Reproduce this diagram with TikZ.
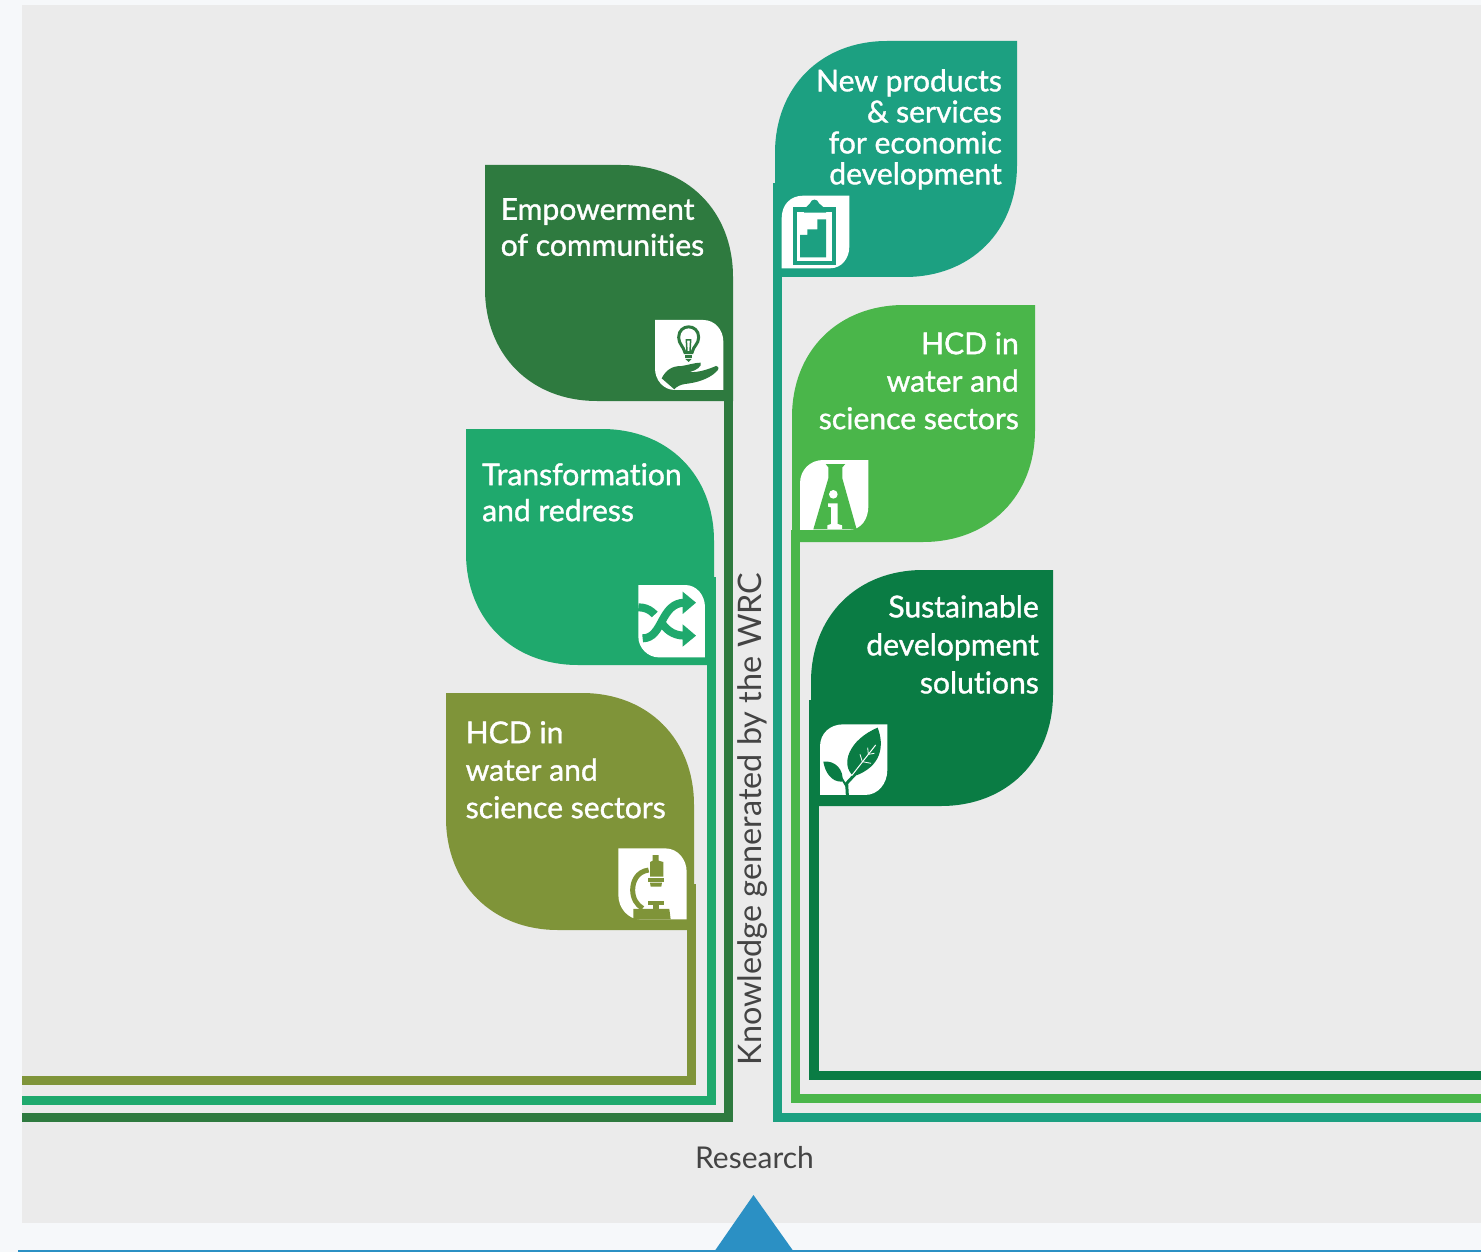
\documentclass[tikz,border=0pt]{standalone}
\usepackage{fontspec}
\setmainfont[Ligatures=NoCommon]{Lato}
\newfontfamily\leaffont[FakeBold=1.2,Ligatures=NoCommon]{Lato}
\definecolor{bgout}{HTML}{F6F8FA}
\definecolor{bgin}{HTML}{EBEBEB}
\definecolor{cLa}{HTML}{2E7A3F}
\definecolor{cLb}{HTML}{1FA96D}
\definecolor{cLc}{HTML}{7F9439}
\definecolor{cRa}{HTML}{1CA081}
\definecolor{cRb}{HTML}{4AB64A}
\definecolor{cRc}{HTML}{0A7C44}
\definecolor{cBlue}{HTML}{2B90C4}
\definecolor{cText}{HTML}{444444}
\tikzset{
  stem/.style={line width=#1,line join=miter,line cap=butt},
  leaftext/.style={text=white,inner sep=0pt,font=\leaffont\fontsize{30.1}{#1}\selectfont},
  iconbox/.style={fill=white,draw=none},
  plain/.style={text=cText,inner sep=0pt,font=\fontsize{#1}{34}\selectfont}
}
% leaf with square top-left / bottom-right corners
\newcommand{\leafL}[5]{\fill[#5] (#1,#2) -- ({#3-112},#2) .. controls ({#3-46},#2) and (#3,{#2+46}) .. (#3,{#2+112}) -- (#3,#4) -- ({#1+112},#4) .. controls ({#1+46},#4) and (#1,{#4-46}) .. (#1,{#4-112}) -- cycle;}
% leaf with square top-right / bottom-left corners
\newcommand{\leafR}[5]{\fill[#5] (#3,#2) -- (#3,{#4-112}) .. controls (#3,{#4-46}) and ({#3-46},#4) .. ({#3-112},#4) -- (#1,#4) -- (#1,{#2+112}) .. controls (#1,{#2+46}) and ({#1+46},#2) .. ({#1+112},#2) -- cycle;}
\begin{document}
\begin{tikzpicture}[x=1pt,y=-1pt]
\useasboundingbox (0,0) rectangle (1481,1252);
\fill[bgout] (0,0) rectangle (1481,1252);
\fill[bgin] (22,5) rectangle (1481,1223);
\fill[cBlue] (18,1250) rectangle (1481,1252);
\fill[cBlue] (753.5,1195) -- (794,1252) -- (714,1252) -- cycle;

% stems
\coordinate (la) at (728.5,300); \coordinate (lae) at (22,1117.5);
\coordinate (lb) at (711.5,577); \coordinate (lbe) at (22,1100.5);
\coordinate (lc) at (691.5,884); \coordinate (lce) at (22,1080.5);
\coordinate (ra) at (777,183);   \coordinate (rae) at (1481,1117.5);
\coordinate (rb) at (795.5,530); \coordinate (rbe) at (1481,1098.5);
\coordinate (rc) at (814,700);   \coordinate (rce) at (1481,1075.5);
\draw[stem=9.5,cLa] (la) |- (lae);
\draw[stem=9.5,cLb] (lb) |- (lbe);
\draw[stem=9,cLc] (lc) |- (lce);
\draw[stem=9,cRa] (ra) |- (rae);
\draw[stem=8.5,cRb] (rb) |- (rbe);
\draw[stem=9.5,cRc] (rc) |- (rce);

% leaves
\leafL{485}{165}{733}{401}{cLa}
\leafL{466}{429}{714}{665}{cLb}
\leafL{446}{693}{694}{930}{cLc}
\leafR{775}{41}{1017}{277}{cRa}
\leafR{792}{305}{1035}{542}{cRb}
\leafR{811}{570}{1053}{806}{cRc}

% leaf texts
\node[leaftext=36,align=left,anchor=north west] (tla) at (500.5,198) {Empowerment\\of communities};
\node[leaftext=36,align=left,anchor=north west] (tlb) at (482,463) {Transformation\\and redress};
\node[leaftext=37.5,align=left,anchor=north west] (tlc) at (465.5,721) {HCD in\\water and\\science sectors};
\node[leaftext=31,align=right,anchor=north east] (tra) at (1002,69) {New products\\\&\ services\\for economic\\development};
\node[leaftext=37.5,align=right,anchor=north east] (trb) at (1019,332) {HCD in\\water and\\science sectors};
\node[leaftext=38,align=right,anchor=north east] (trc) at (1039,595) {Sustainable\\development\\solutions};

% axis texts
\node[plain=32.4,rotate=90] (know) at (752.5,819) {Knowledge generated by the WRC};
\node[plain=30] (res) at (754.5,1158) {Research};

% icon: hand and bulb
\begin{scope}[shift={(640,310)},x=0.3333pt,y=-0.3333pt]
\fill[iconbox] (45,30) -- (190,30) .. controls (225,30) and (250,60) .. (250,95) -- (250,240) -- (105,240) .. controls (70,240) and (45,210) .. (45,175) -- cycle;
\fill[cLa] (65,205) .. controls (78,180) and (95,168) .. (125,168) .. controls (145,165) and (165,158) .. (182,158) .. controls (186,170) and (170,180) .. (150,186) .. controls (175,188) and (205,178) .. (228,168) .. controls (238,170) and (238,178) .. (228,186) .. controls (205,208) and (170,218) .. (135,222) .. controls (120,224) and (110,230) .. (103,238) -- cycle;
\draw[cLa,line width=3pt] (135,128) .. controls (130,108) and (116,102) .. (116,82) .. controls (116,40) and (176,40) .. (176,82) .. controls (176,102) and (160,108) .. (156,128) -- cycle;
\draw[cLa,line width=1.5pt] (141,125) -- (139,90) -- (152,90) -- (150,125);
\draw[cLa,line width=2.5pt] (136,140) -- (155,140);
\fill[cLa] (136,147) -- (155,147) -- (146,156) -- cycle;
\end{scope}

% icon: clipboard
\begin{scope}[shift={(770,180)},x=0.3333pt,y=-0.3333pt]
\fill[iconbox] (238,47) -- (238,200) .. controls (238,235) and (215,265) .. (180,265) -- (35,265) -- (35,115) .. controls (35,75) and (60,47) .. (100,47) -- cycle;
\fill[cRa] (68,80) rectangle (198,255);
\fill[iconbox] (80,97) rectangle (186,243);
\fill[cRa] (102,88) -- (120,70) .. controls (125,55) and (142,55) .. (147,70) -- (168,88) -- (168,98) -- (102,98) -- cycle;
\fill[cRa] (90,165) -- (112,165) -- (112,148) -- (142,148) -- (142,118) -- (168,118) -- (168,232) -- (90,232) -- cycle;
\end{scope}

% icon: shuffle
\begin{scope}[shift={(620,570)},x=0.3333pt,y=-0.3333pt]
\fill[iconbox] (55,45) -- (195,45) .. controls (230,45) and (255,75) .. (255,112) -- (255,262) -- (115,262) .. controls (85,262) and (55,235) .. (55,200) -- cycle;
\draw[cLb,line width=8pt] (55,112) .. controls (125,112) and (115,197) .. (195,197);
\draw[white,line width=12pt] (92,170) -- (130,135);
\draw[cLb,line width=8pt] (68,205) .. controls (130,205) and (120,98) .. (195,98);
\fill[cLb] (188,65) -- (228,98) -- (188,132) -- cycle;
\fill[cLb] (188,163) -- (228,197) -- (188,230) -- cycle;
\end{scope}

% icon: flask with i
\begin{scope}[shift={(790,450)},x=0.3333pt,y=-0.3333pt]
\fill[iconbox] (235,30) -- (235,170) .. controls (235,205) and (215,240) .. (175,240) -- (30,240) -- (30,100) .. controls (30,60) and (60,30) .. (100,30) -- cycle;
\fill[cRb] (107,42) -- (166,42) -- (157,52) -- (157,85) -- (200,238) -- (70,238) -- (115,85) -- (115,52) -- cycle;
\fill[white] (130,133) circle (13);
\fill[white] (114,160) -- (143,160) -- (143,222) -- (156,226) -- (156,237) -- (112,237) -- (112,226) -- (123,222) -- (123,172) -- (114,170) -- cycle;
\end{scope}

% icon: microscope
\begin{scope}[shift={(600,840)},x=0.3333pt,y=-0.3333pt]
\fill[iconbox] (55,25) -- (195,25) .. controls (235,25) and (260,60) .. (260,95) -- (260,238) -- (120,238) .. controls (85,238) and (55,205) .. (55,165) -- cycle;
\fill[cLc] (158,45) -- (176,45) -- (176,62) -- (190,66) -- (190,110) -- (150,110) -- (150,66) -- (158,62) -- cycle;
\fill[cLc] (144,114) -- (192,114) -- (192,125) -- (144,125) -- cycle;
\fill[cLc] (150,128) -- (186,128) -- (184,140) -- (152,140) -- cycle;
\draw[cLc,line width=5pt] (146,90) .. controls (110,95) and (98,125) .. (98,150) .. controls (98,175) and (110,195) .. (128,205);
\fill[cLc] (143,184) rectangle (192,195);
\fill[cLc] (160,195) rectangle (178,207);
\fill[cLc] (100,207) -- (208,207) -- (212,238) -- (100,238) -- cycle;
\end{scope}

% icon: leaves
\begin{scope}[shift={(805,715)},x=0.3333pt,y=-0.3333pt]
\fill[iconbox] (247,28) -- (247,165) .. controls (247,205) and (220,240) .. (180,240) -- (45,240) -- (45,95) .. controls (45,55) and (75,28) .. (115,28) -- cycle;
\fill[cRc] (218,38) .. controls (238,90) and (232,155) .. (146,184) .. controls (105,150) and (130,75) .. (218,38) -- cycle;
\fill[cRc] (55,140) .. controls (90,135) and (118,165) .. (112,200) .. controls (78,202) and (60,170) .. (55,140) -- cycle;
\draw[cRc,line width=3pt] (127,240) -- (125,205) -- (150,178);
\draw[cRc,line width=2pt] (125,215) -- (110,190);
\draw[white,line width=1pt] (140,182) -- (212,90);
\draw[white,line width=0.8pt] (172,140) -- (165,118) (172,140) -- (198,145) (190,118) -- (188,98) (190,118) -- (208,115);
\end{scope}
\end{tikzpicture}
\end{document}
